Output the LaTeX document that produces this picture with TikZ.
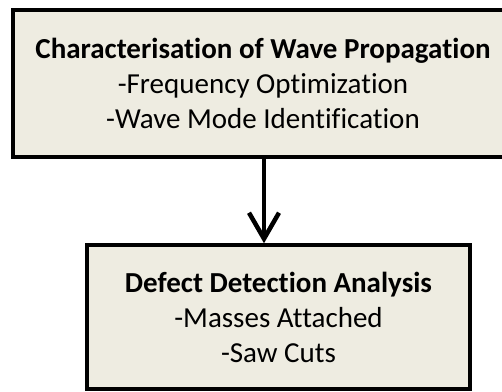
\documentclass[tikz,border=0pt]{standalone}
\usepackage{fontspec}
\setmainfont[Ligatures=NoCommon]{Carlito}
\usepackage{tikz}
\usetikzlibrary{arrows.meta,positioning}
\definecolor{boxtan}{HTML}{EEECE1}
\tikzset{stage/.style={draw=black,line width=3.5pt,fill=boxtan,align=center,
  inner sep=0pt,font=\fontsize{29}{35}\selectfont}}
\tikzset{to/.style={-{Straight Barb[length=26pt,width=30pt,line width=4.5pt]},line width=4.5pt}}

\begin{document}
\begin{tikzpicture}[x=1pt,y=-1pt]

\useasboundingbox (0,0) rectangle (502,391);

%%% Top Box

\node [stage,minimum width=500pt,minimum height=147pt]
(waves) at (263,83.5)
{\textbf{Characterisation of Wave Propagation}\\
-Frequency Optimization\\
-Wave Mode Identification};

%%% Bottom Box

\node [stage,minimum width=383pt,minimum height=144pt]
(defects) at (278.5,317)
{\textbf{Defect Detection Analysis}\\
-Masses Attached\\
-Saw Cuts};

%%% Arrow

\draw [to] (waves.south -| 264,0) -- (264,0 |- defects.north);

\end{tikzpicture}
\end{document}
